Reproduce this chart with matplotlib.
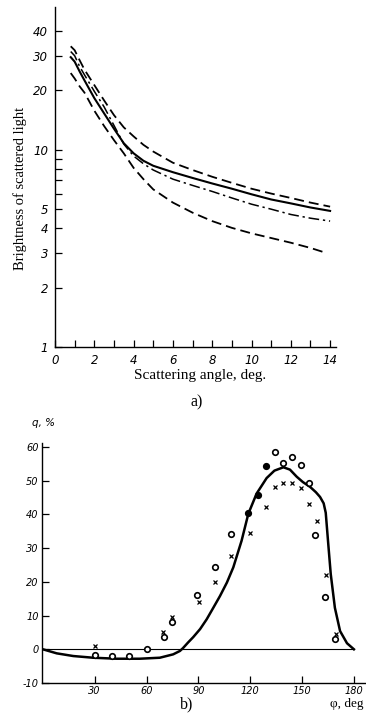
import matplotlib
matplotlib.use("Agg")
import matplotlib.pyplot as plt
from matplotlib.ticker import FixedLocator, FixedFormatter

# ---------------- data: panel a ----------------
angle = [0.8, 1, 1.25, 1.5, 2, 2.5, 3, 3.5, 4, 4.5, 5, 6, 7, 8, 9, 10, 11, 12, 13, 14]
upper_dashed = [33.5, 32, 28.5, 25.5, 21.3, 17.8, 15.0, 13.0, 11.7, 10.6, 9.8,
                8.6, 7.9, 7.3, 6.8, 6.35, 6.0, 5.7, 5.4, 5.15]
solid_a = [29.5, 28, 25, 22.5, 18.3, 15.3, 12.8, 10.8, 9.6, 8.8, 8.3,
           7.7, 7.2, 6.75, 6.35, 5.95, 5.6, 5.35, 5.1, 4.9]
dashdot_a = [31.5, 30, 26.5, 24, 19.8, 16.5, 13.3, 10.7, 9.3, 8.5, 7.9,
             7.1, 6.6, 6.15, 5.7, 5.3, 5.0, 4.7, 4.5, 4.35]
angle_low = [0.8, 1, 1.25, 1.5, 2, 2.5, 3, 3.5, 4, 4.5, 5, 6, 7, 8, 9, 10, 11, 12, 13, 13.8]
lower_dashed = [24.5, 23, 21, 19.5, 15.8, 13.2, 11.2, 9.6, 8.1, 7.1, 6.3,
                5.4, 4.8, 4.35, 4.02, 3.77, 3.57, 3.38, 3.18, 3.0]

a_xticks = [0, 2, 4, 6, 8, 10, 12, 14]
a_yticks = [1, 2, 3, 4, 5, 10, 20, 30, 40]
a_yminor = [6, 7, 8, 9]

# ---------------- data: panel b ----------------
phi_curve = [0, 8, 17.6, 29, 42.7, 56, 67.7, 75.4, 79.3, 81, 84, 87, 91, 94.8,
             98.5, 102.5, 106.5, 110.2, 115, 118.9, 123.7, 129.5, 134, 139.2,
             143, 146.9, 150.5, 154.6, 158, 160.4, 162.5, 163.7, 165.2, 166.6,
             169, 172, 176, 180]
q_curve = [0, -1.2, -2.0, -2.5, -2.8, -2.8, -2.5, -1.5, -0.5, 0.3, 2.0, 3.6,
           6.0, 8.9, 12.2, 15.8, 19.8, 24.3, 32.2, 40.2, 46.2, 50.8, 53.0, 54.0,
           53.3, 51.2, 49.6, 48.2, 46.6, 45.2, 43.3, 40.5, 31, 22.3, 12.3, 5.4,
           1.8, 0]

circ_phi = [30, 40, 50, 60, 70, 75, 89, 99.6, 108.9, 134.3, 139.2, 144.4,
            149.4, 154.2, 157.5, 163.3, 169]
circ_q = [-1.8, -2.1, -2.1, 0, 3.6, 8.1, 16.1, 24.3, 34.2, 58.4, 55.3, 57.1,
          54.8, 49.3, 34.0, 15.6, 3.1]
dot_phi = [118.9, 124.3, 129]
dot_q = [40.4, 45.9, 54.3]
cross_phi = [30, 69.3, 75, 90.2, 99.6, 108.7, 119.9, 129, 134.3, 139.2, 144.4,
             149.4, 154, 158.8, 163.9, 169.5]
cross_q = [1.0, 5.2, 9.5, 14.1, 20.1, 27.6, 34.4, 42.2, 48.2, 49.3, 49.3, 47.8,
           43.2, 38.2, 22.0, 4.5]

b_xticks = [30, 60, 90, 120, 150, 180]
b_yticks = [-10, 0, 10, 20, 30, 40, 50, 60]

W, H = 366, 714
fig = plt.figure(figsize=(W / 100, H / 100), dpi=100)
serif = "Liberation Serif"

# ---------------- panel a ----------------
ax1 = fig.add_axes([55 / W, 1 - 347 / H, (336 - 55) / W, (347 - 7) / H])
ax1.set_yscale("log")
ax1.plot(angle, upper_dashed, color="black", lw=1.3, ls=(0, (5.5, 2.8)))
ax1.plot(angle, solid_a, color="black", lw=1.5)
ax1.plot(angle, dashdot_a, color="black", lw=1.1, ls=(0, (7, 2.5, 1.5, 2.5)))
ax1.plot(angle_low, lower_dashed, color="black", lw=1.3, ls=(0, (5.5, 2.8)))
ax1.set_xlim(0, 14.3)
ax1.set_ylim(1, 53)
for s in ["top", "right"]:
    ax1.spines[s].set_visible(False)
for s in ["left", "bottom"]:
    ax1.spines[s].set_linewidth(1.0)
ax1.yaxis.set_major_locator(FixedLocator(a_yticks + a_yminor))
ax1.yaxis.set_major_formatter(FixedFormatter([str(v) for v in a_yticks] + [""] * len(a_yminor)))
ax1.yaxis.set_minor_locator(FixedLocator([]))
ax1.set_xticks(list(range(0, 15)))
ax1.set_xticklabels([str(v) if v in a_xticks else "" for v in range(0, 15)])
ax1.tick_params(axis="both", direction="in", length=5, width=0.9, labelsize=8.5, pad=5)
for lab in ax1.get_xticklabels() + ax1.get_yticklabels():
    lab.set_fontstyle("italic")
fig.text(20 / W, 1 - 188 / H, "Brightness of scattered light", rotation=90,
         ha="center", va="center", family=serif, fontsize=10.5)
fig.text(200 / W, 1 - 376 / H, "Scattering angle, deg.", ha="center", va="center",
         family=serif, fontsize=11)
fig.text(197 / W, 1 - 402 / H, "a)", ha="center", va="center", family=serif, fontsize=11.5)

# ---------------- panel b ----------------
ax2 = fig.add_axes([42 / W, 1 - 683 / H, (366 - 42) / W, (683 - 443) / H])
ax2.plot([0, 180], [0, 0], color="black", lw=0.8)
ax2.plot(phi_curve, q_curve, color="black", lw=1.8)
ax2.plot(circ_phi, circ_q, ls="none", marker="o", ms=4, mfc="white", mec="black", mew=1.2)
ax2.plot(dot_phi, dot_q, ls="none", marker="o", ms=4, mfc="black", mec="black", mew=1.2)
ax2.plot(cross_phi, cross_q, ls="none", marker="x", ms=3, color="black", mew=0.9)
ax2.set_xlim(-0.5, 187)
ax2.set_ylim(-10, 61.2)
for s in ["top", "right"]:
    ax2.spines[s].set_visible(False)
for s in ["left", "bottom"]:
    ax2.spines[s].set_linewidth(1.0)
ax2.set_xticks(b_xticks)
ax2.set_xticklabels([str(v) for v in b_xticks])
ax2.set_yticks(b_yticks)
ax2.set_yticklabels([str(v) for v in b_yticks])
ax2.tick_params(axis="both", direction="in", length=5, width=0.9, labelsize=7, pad=2.5)
for lab in ax2.get_xticklabels() + ax2.get_yticklabels():
    lab.set_fontstyle("italic")
fig.text(32 / W, 1 - 423 / H, "q, %", ha="left", va="center", fontsize=7.5,
         style="italic", family="DejaVu Sans")
fig.text(187 / W, 1 - 704 / H, "b)", ha="center", va="center", family=serif, fontsize=11.5)
fig.text(330 / W, 1 - 704 / H, "φ, deg", ha="left", va="center", family=serif,
         fontsize=9.5)

fig.savefig("out.png", dpi=100)
